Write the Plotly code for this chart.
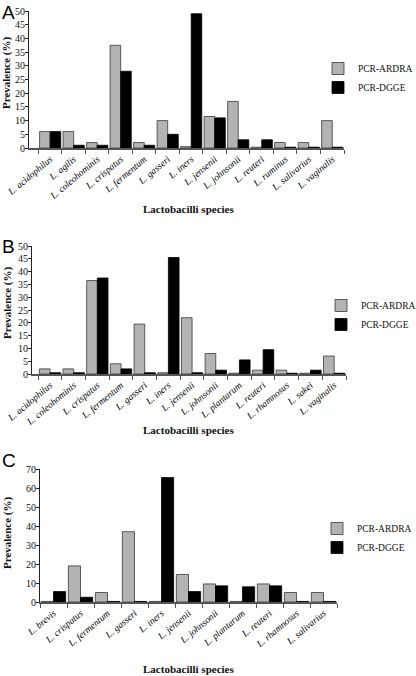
import plotly.graph_objects as go

W, H = 416, 676

# ---------------- data ----------------
a_species = ["L. acidophilus", "L. agilis", "L. coleohominis", "L. crispatus", "L. fermentum",
             "L. gasseri", "L. iners", "L. jensenii", "L. johnsonii", "L. reuteri",
             "L. ruminus", "L. salivarius", "L. vaginalis"]
a_ardra = [6, 6, 2, 37.5, 2, 10, 0.5, 11.5, 17, 0.3, 2, 2, 10]
a_dgge = [6, 1, 1, 28, 1, 5, 49, 11, 3, 3, 0.3, 0.3, 0.3]

b_species = ["L. acidophilus", "L. coleohominis", "L. crispatus", "L. fermentum", "L. gasseri",
             "L. iners", "L. jensenii", "L. johnsonii", "L. plantarum", "L. reuteri",
             "L. rhamnosus", "L. sakei", "L. vaginalis"]
b_ardra = [2, 2, 36.5, 4, 19.5, 0.5, 22, 8, 0.3, 1.5, 1.5, 0.3, 7]
b_dgge = [0.5, 0.5, 37.5, 2, 0.5, 45.5, 0.5, 1.5, 5.5, 9.5, 0.3, 1.5, 0.3]

c_species = ["L. brevis", "L. crispatus", "L. fermentum", "L. gasseri", "L. iners",
             "L. jensenii", "L. johnsonii", "L. plantarum", "L. reuteri", "L. rhamnosus",
             "L. salivarius"]
c_ardra = [0.3, 19, 5, 37, 0.3, 14.5, 9.5, 0.3, 9.5, 5, 5]
c_dgge = [5.5, 2.5, 0.3, 0.3, 65.5, 5.5, 8.5, 8, 8.5, 0.3, 0.3]

y_a_ticks = list(range(0, 51, 5))
y_b_ticks = list(range(0, 51, 5))
y_c_ticks = list(range(0, 71, 10))

series_names = ["PCR-ARDRA", "PCR-DGGE"]
panel_letters = ["A", "B", "C"]
x_title = "Lactobacilli species"
y_title = "Prevalence (%)"

# ---------------- layout helpers ----------------
SERIF = "Liberation Serif, Times New Roman, serif"
SANS = "Liberation Sans, Arial, sans-serif"


def px_x(v):
    return v / W


def px_y(v):
    return 1 - v / H


panels = [
    dict(species=a_species, ardra=a_ardra, dgge=a_dgge, ticks=y_a_ticks,
         xpx=(29, 344), xr=(-0.9, 12.5), ypx=(11, 148),
         legend_x=318, legend_y=54, xtitle_y=209, ytitle_y=73, letter_top=-2),
    dict(species=b_species, ardra=b_ardra, dgge=b_dgge, ticks=y_b_ticks,
         xpx=(32, 346), xr=(-0.76, 12.5), ypx=(246, 374),
         legend_x=321, legend_y=291, xtitle_y=430, ytitle_y=303, letter_top=234),
    dict(species=c_species, ardra=c_ardra, dgge=c_dgge, ticks=y_c_ticks,
         xpx=(40, 337), xr=(-0.5, 10.5), ypx=(469, 602),
         legend_x=317, legend_y=514, xtitle_y=669, ytitle_y=533, letter_top=448),
]

fig = go.Figure()
annotations = []
layout = {}

for i, p in enumerate(panels):
    n = "" if i == 0 else str(i + 1)
    xa, ya = "x" + n, "y" + n
    leg = "legend" + n
    fig.add_trace(go.Bar(
        x=p["species"], y=p["ardra"], name=series_names[0], xaxis=xa, yaxis=ya,
        marker=dict(color="#b3b3b3", line=dict(color="#3a3a3a", width=0.8)),
        legend=leg, showlegend=True))
    fig.add_trace(go.Bar(
        x=p["species"], y=p["dgge"], name=series_names[1], xaxis=xa, yaxis=ya,
        marker=dict(color="#000000", line=dict(color="#000000", width=0.8)),
        legend=leg, showlegend=True))

    layout["xaxis" + n] = dict(
        domain=[px_x(p["xpx"][0]), px_x(p["xpx"][1])], anchor=ya,
        range=list(p["xr"]), type="category", automargin=False,
        tickmode="array", tickvals=p["species"],
        ticktext=["<i>%s</i>" % s for s in p["species"]],
        tickangle=-40, tickfont=dict(family=SERIF, size=9.5, color="#000"),
        showline=True, linecolor="#555", linewidth=2,
        ticks="outside", ticklen=4, tickcolor="#555", tickson="boundaries",
        showgrid=False, zeroline=False, fixedrange=True)
    layout["yaxis" + n] = dict(
        domain=[px_y(p["ypx"][1]), px_y(p["ypx"][0])], anchor=xa,
        range=[0, p["ticks"][-1]], tickmode="array", tickvals=p["ticks"],
        automargin=False, ticklabelstandoff=-2,
        tickfont=dict(family=SERIF, size=10, color="#111"),
        showline=True, linecolor="#222", linewidth=1,
        ticks="outside", ticklen=3, tickcolor="#222",
        showgrid=False, zeroline=False, fixedrange=True)
    layout[leg] = dict(
        x=px_x(p["legend_x"]), y=px_y(p["legend_y"]), xanchor="left", yanchor="top",
        font=dict(family=SERIF, size=9.5, color="#111"),
        bgcolor="rgba(0,0,0,0)", itemwidth=30, tracegroupgap=0,
        traceorder="normal")

    annotations.append(dict(
        text="<b>%s</b>" % y_title, textangle=-90, x=px_x(7), y=px_y(p["ytitle_y"]),
        xref="paper", yref="paper", xanchor="center", yanchor="middle", showarrow=False,
        font=dict(family=SERIF, size=11, color="#111")))
    annotations.append(dict(
        text="<b>%s</b>" % x_title, x=px_x(188), y=px_y(p["xtitle_y"]),
        xref="paper", yref="paper", xanchor="center", yanchor="middle", showarrow=False,
        font=dict(family=SERIF, size=11, color="#111")))
    annotations.append(dict(
        text=panel_letters[i], x=0, y=min(1.0, px_y(p["letter_top"])),
        xref="paper", yref="paper", xanchor="left", yanchor="top", showarrow=False,
        font=dict(family=SANS, size=19, color="#000")))

fig.update_layout(
    width=W, height=H, margin=dict(l=0, r=0, t=0, b=0, autoexpand=False),
    paper_bgcolor="white", plot_bgcolor="white",
    barmode="group", bargap=0.1, bargroupgap=0.0,
    annotations=annotations, **layout)

fig.write_html(
    "out.html",
    config={"displayModeBar": False},
    post_script="document.body.style.margin='0';document.body.style.overflow='hidden';")
